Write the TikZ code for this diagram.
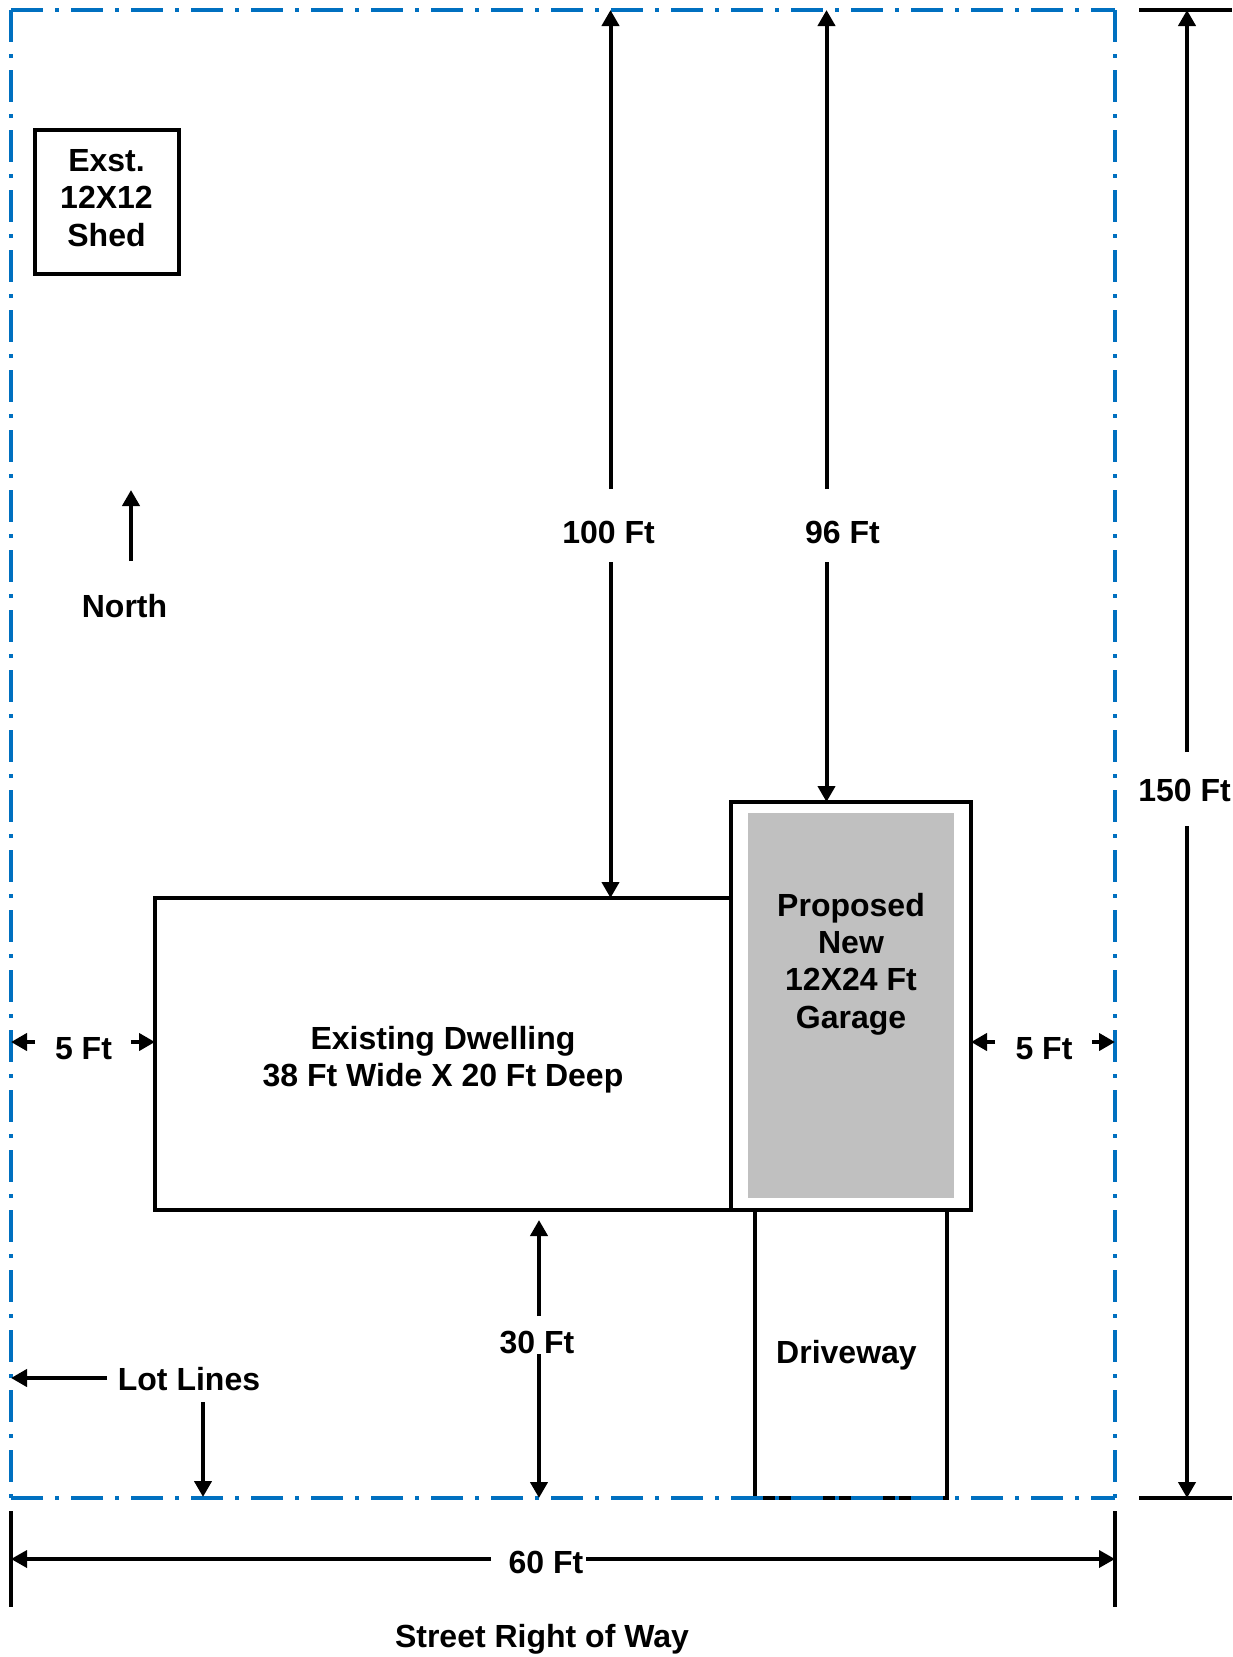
\documentclass[tikz,border=0pt]{standalone}
\usepackage{fontspec}
\setmainfont{Liberation Sans}
\usepackage{xcolor}
\usetikzlibrary{arrows.meta}
\definecolor{lotblue}{HTML}{0070C0}
\definecolor{garagegray}{HTML}{C0C0C0}

\begin{document}
\begin{tikzpicture}[x=1pt,y=-1pt]
  \tikzstyle{building} = [draw,fill=white,line width=4pt,inner sep=0pt,outer sep=0pt]
  \tikzstyle{lotline} = [draw=lotblue,line width=4pt,dash pattern=on 32pt off 12pt on 4pt off 12pt]
  \tikzstyle{dimline} = [draw,line width=4pt,-{Triangle[length=16pt,width=17pt]}]
  \tikzstyle{tickline} = [draw,line width=4pt]
  \tikzstyle{caption} = [font=\fontsize{32}{37.2}\selectfont\bfseries,inner sep=0pt,align=center]
  %
  \useasboundingbox (0,0) rectangle (1232,1657);
  % Corners of the lot.
  \coordinate (lotNW) at (11,10);
  \coordinate (lotNE) at (1115,10);
  \coordinate (lotSW) at (11,1498);
  \coordinate (lotSE) at (1115,1498);
  % Buildings.
  \node[building,minimum width=192,minimum height=288] (driveway) at (851,1354) {};
  \node[building,minimum width=144,minimum height=144] (shed) at (106.5,202) {};
  \node[building,minimum width=576,minimum height=312] (dwelling) at (443,1054) {};
  \node[building,minimum width=240,minimum height=408] (garage) at (851,1006) {};
  \node[fill=garagegray,inner sep=0pt,minimum width=206,minimum height=385] (floor) at (851,1005.5) {};
  % Lot lines go over the driveway.
  \draw[lotline] (lotNW) -- (lotNE);
  \draw[lotline] (lotSW) -- (lotSE);
  \draw[lotline] (lotNW) -- (lotSW);
  \draw[lotline] (lotNE) -- (lotSE);
  % Texts.
  \node[caption] (shedText) at (106.5,198) {Exst.\\12X12\\Shed};
  \node[caption] (dwellingText) at (443,1060) {Existing Dwelling\\38 Ft Wide X 20 Ft Deep};
  \node[caption] (garageText) at (851,964) {Proposed\\New\\12X24 Ft\\Garage};
  \node[caption,anchor=base] (drivewayText) at (846.5,1363) {Driveway};
  \node[caption,anchor=base] (northText) at (124.5,617) {North};
  \node[caption,anchor=base] (lotText) at (189,1390) {Lot Lines};
  \node[caption,anchor=base] (streetText) at (542,1647) {Street Right of Way};
  \node[caption,anchor=base] (d100) at (608.5,543) {100 Ft};
  \node[caption,anchor=base] (d96) at (842.5,543) {96 Ft};
  \node[caption,anchor=base] (d150) at (1184.5,801) {150 Ft};
  \node[caption,anchor=base] (d5a) at (83.5,1059) {5 Ft};
  \node[caption,anchor=base] (d5b) at (1044,1059) {5 Ft};
  \node[caption,anchor=base] (d30) at (537,1353) {30 Ft};
  \node[caption,anchor=base] (d60) at (546,1573.5) {60 Ft};
  % North arrow.
  \coordinate (northTail) at (131,561);
  \coordinate (northTip) at (131,490);
  \draw[dimline] (northTail) -- (northTip);
  % Lot line pointers.
  \coordinate (lotTailA) at (107,1378);
  \coordinate (lotTipA) at (11,1378);
  \coordinate (lotTailB) at (203,1402);
  \coordinate (lotTipB) at (203,1497);
  \draw[dimline] (lotTailA) -- (lotTipA);
  \draw[dimline] (lotTailB) -- (lotTipB);
  % 100 Ft.
  \coordinate (a100) at (610.5,489);
  \coordinate (b100) at (610.5,562);
  \draw[dimline] (a100) -- (a100 |- lotNW);
  \draw[dimline] (b100) -- (b100 |- dwelling.north);
  % 96 Ft.
  \coordinate (a96) at (826.5,489);
  \coordinate (b96) at (826.5,562);
  \draw[dimline] (a96) -- (a96 |- lotNW);
  \draw[dimline] (b96) -- (b96 |- garage.north);
  % 150 Ft.
  \coordinate (a150) at (1187,752);
  \coordinate (b150) at (1187,826);
  \coordinate (endN) at (1139,10);
  \coordinate (endS) at (1139,1498);
  \draw[tickline] (endN) -- (1232,10);
  \draw[tickline] (endS) -- (1232,1498);
  \draw[dimline] (a150) -- (a150 |- endN);
  \draw[dimline] (b150) -- (b150 |- endS);
  % 5 Ft, both sides.
  \coordinate (a5) at (35,1042);
  \coordinate (b5) at (131,1042);
  \coordinate (c5) at (995,1042);
  \coordinate (e5) at (1092,1042);
  \draw[dimline] (a5) -- (a5 -| lotNW);
  \draw[dimline] (b5) -- (b5 -| dwelling.west);
  \draw[dimline] (c5) -- (c5 -| garage.east);
  \draw[dimline] (e5) -- (e5 -| lotNE);
  % 30 Ft.
  \coordinate (a30) at (539,1316);
  \coordinate (b30) at (539,1354);
  \coordinate (tip30) at (539,1220);
  \draw[dimline] (a30) -- (tip30);
  \draw[dimline] (b30) -- (b30 |- lotSW);
  % 60 Ft.
  \coordinate (tickA) at (11,1511);
  \coordinate (tickB) at (1115,1511);
  \coordinate (a60) at (491,1559);
  \coordinate (b60) at (586,1559);
  \draw[tickline] (tickA) -- (11,1607);
  \draw[tickline] (tickB) -- (1115,1607);
  \draw[dimline,line width=3.5pt] (a60) -- (a60 -| tickA);
  \draw[dimline,line width=3.5pt] (b60) -- (b60 -| tickB);
\end{tikzpicture}
\end{document}
